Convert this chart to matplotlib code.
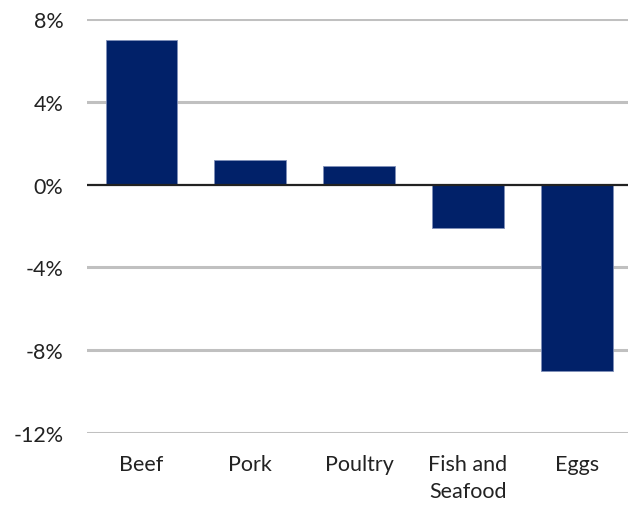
import matplotlib.pyplot as plt
from matplotlib.ticker import FuncFormatter

# --------- Data ---------- #
categories = ['Beef', 'Pork', 'Poultry', 'Fish and\nSeafood', 'Eggs']
changes = [7.0, 1.2, 0.9, -2.1, -9.0]
yticks = [-12, -8, -4, 0, 4, 8]

navy = '#012169'

plt.rcParams['font.family'] = ['Lato', 'DejaVu Sans']

fig = plt.figure(figsize=(6.28, 5.06), dpi=100)
ax = fig.add_axes([87/628, 1 - 434/506, 1 - 87/628, (434 - 20)/506])

x = range(len(categories))
ax.bar(x, changes, width=0.66, color=navy, edgecolor='#7f8fb8', linewidth=0.6, zorder=3)

for t in yticks:
    if t != 0:
        ax.axhline(t, color='#c0c0c0', linewidth=2.2, zorder=1)
ax.axhline(0, color='#222222', linewidth=1.6, zorder=4)

ax.set_ylim(-12, 8)
ax.set_xlim(-0.5, 4.47)
ax.set_yticks(yticks)
ax.yaxis.set_major_formatter(FuncFormatter(lambda v, p: '%d%%' % v))
ax.set_xticks(list(x))
ax.set_xticklabels(categories)

ax.tick_params(axis='both', length=0, labelsize=15.5, colors='#222222')
ax.tick_params(axis='y', pad=17)
ax.tick_params(axis='x', pad=15)
for lab in ax.get_xticklabels():
    lab.set_linespacing(1.45)
    lab.set_verticalalignment('top')

for s in ax.spines.values():
    s.set_visible(False)

fig.savefig('out.png', dpi=100)
